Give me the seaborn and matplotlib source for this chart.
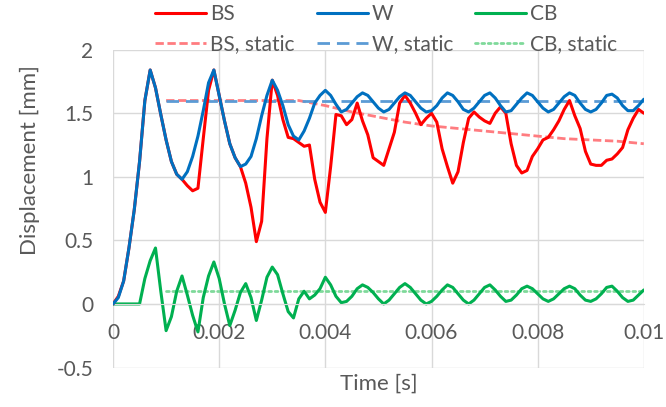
import matplotlib
matplotlib.use('Agg')
import matplotlib.pyplot as plt
import numpy as np
import pandas as pd
import seaborn as sns

# time axis, sampled every 0.1 ms
time_s = np.linspace(0, 0.01, 101)

bs = [0.00, 0.06, 0.18, 0.44, 0.74, 1.12, 1.60, 1.84, 1.70, 1.49,
      1.29, 1.12, 1.02, 0.98, 0.93, 0.89, 0.91, 1.30, 1.68, 1.84,
      1.64, 1.44, 1.26, 1.15, 1.08, 0.95, 0.76, 0.49, 0.65, 1.30,
      1.76, 1.64, 1.45, 1.31, 1.30, 1.27, 1.24, 1.25, 0.98, 0.80,
      0.72, 1.08, 1.49, 1.48, 1.41, 1.45, 1.58, 1.44, 1.33, 1.15,
      1.12, 1.09, 1.22, 1.35, 1.58, 1.64, 1.58, 1.50, 1.41, 1.46,
      1.50, 1.43, 1.22, 1.08, 0.95, 1.04, 1.27, 1.46, 1.51, 1.47,
      1.44, 1.42, 1.50, 1.55, 1.50, 1.26, 1.09, 1.03, 1.05, 1.16,
      1.22, 1.29, 1.31, 1.37, 1.44, 1.53, 1.60, 1.48, 1.38, 1.20,
      1.10, 1.09, 1.09, 1.13, 1.14, 1.18, 1.23, 1.37, 1.46, 1.53,
      1.50]

w = [0.00, 0.05, 0.18, 0.44, 0.74, 1.12, 1.60, 1.84, 1.70, 1.49,
     1.29, 1.12, 1.02, 0.98, 1.04, 1.16, 1.32, 1.52, 1.74, 1.84,
     1.64, 1.44, 1.26, 1.15, 1.08, 1.10, 1.16, 1.30, 1.48, 1.64,
     1.76, 1.68, 1.56, 1.41, 1.32, 1.29, 1.36, 1.46, 1.58, 1.64,
     1.68, 1.64, 1.57, 1.51, 1.53, 1.58, 1.63, 1.66, 1.64, 1.59,
     1.54, 1.51, 1.53, 1.58, 1.63, 1.66, 1.64, 1.59, 1.54, 1.51,
     1.52, 1.56, 1.62, 1.66, 1.64, 1.59, 1.53, 1.51, 1.54, 1.59,
     1.64, 1.66, 1.62, 1.56, 1.51, 1.52, 1.57, 1.62, 1.66, 1.64,
     1.59, 1.54, 1.51, 1.53, 1.58, 1.63, 1.66, 1.64, 1.58, 1.53,
     1.51, 1.53, 1.58, 1.64, 1.65, 1.62, 1.56, 1.52, 1.52, 1.56,
     1.61]

cb = [0.00, 0.00, 0.00, 0.00, 0.00, 0.00, 0.20, 0.34, 0.44, 0.10,
      -0.21, -0.10, 0.10, 0.22, 0.07, -0.09, -0.22, 0.05, 0.22, 0.33,
      0.20, 0.00, -0.17, -0.05, 0.09, 0.16, 0.05, -0.13, 0.03, 0.21,
      0.29, 0.23, 0.08, -0.06, -0.11, 0.04, 0.10, 0.04, 0.07, 0.12,
      0.21, 0.15, 0.06, 0.01, 0.02, 0.06, 0.12, 0.15, 0.13, 0.09,
      0.04, 0.00, 0.03, 0.08, 0.13, 0.16, 0.13, 0.08, 0.03, 0.00,
      0.02, 0.06, 0.11, 0.15, 0.13, 0.08, 0.03, 0.00, 0.03, 0.08,
      0.13, 0.15, 0.11, 0.06, 0.02, 0.03, 0.07, 0.12, 0.14, 0.12,
      0.08, 0.04, 0.02, 0.04, 0.08, 0.12, 0.14, 0.12, 0.07, 0.03,
      0.02, 0.04, 0.08, 0.13, 0.14, 0.10, 0.05, 0.02, 0.03, 0.07,
      0.11]

# static solutions
static_t = [0.001, 0.002, 0.003, 0.0035, 0.004, 0.0045, 0.005, 0.0055, 0.006,
            0.0065, 0.007, 0.0075, 0.008, 0.0085, 0.009, 0.0095, 0.01]
bs_static = [1.60, 1.60, 1.60, 1.60, 1.56, 1.51, 1.47, 1.43, 1.40,
             1.38, 1.36, 1.34, 1.32, 1.30, 1.29, 1.28, 1.26]
w_static = [1.60] * len(static_t)
cb_static = [0.10] * len(static_t)

x_ticks = [0, 0.002, 0.004, 0.006, 0.008, 0.01]
x_tick_labels = ['0', '0.002', '0.004', '0.006', '0.008', '0.01']
y_ticks = [-0.5, 0, 0.5, 1, 1.5, 2]
y_tick_labels = ['-0.5', '0', '0.5', '1', '1.5', '2']

sns.set_style('white')
plt.rcParams['font.family'] = ['Lato', 'DejaVu Sans']

grey = '#595959'
grid_c = '#d9d9d9'

fig = plt.figure(figsize=(6.66, 4.07), dpi=100)
ax = fig.add_axes([0.1697, 0.097, 0.797, 0.781])

sns.lineplot(x=static_t, y=bs_static, ax=ax, color='#ff7c80', lw=2.0,
             label='BS, static').lines[-1].set_dashes([3, 1.3])
sns.lineplot(x=static_t, y=w_static, ax=ax, color='#5b9bd5', lw=2.0,
             label='W, static').lines[-1].set_dashes([4.5, 2.5])
l_cb_s = sns.lineplot(x=static_t, y=cb_static, ax=ax, color='#7fd99a', lw=2.0,
                      label='CB, static').lines[-1]
l_cb_s.set_dashes([1, 1.3])
l_cb_s.set_dash_capstyle('round')

sns.lineplot(x=time_s, y=w, ax=ax, color='#0070c0', lw=2.2, label='W')
sns.lineplot(x=time_s, y=bs, ax=ax, color='#ff0000', lw=2.2, label='BS')
sns.lineplot(x=time_s, y=cb, ax=ax, color='#00b050', lw=2.2, label='CB')

# blue drawn over red, like the reference
ax.lines[3].set_zorder(4)
ax.lines[4].set_zorder(3)

ax.set_xlim(0, 0.01)
ax.set_ylim(-0.5, 2)
ax.set_xticks(x_ticks)
ax.set_xticklabels(x_tick_labels)
ax.set_yticks(y_ticks)
ax.set_yticklabels(y_tick_labels)
ax.grid(True, color=grid_c, lw=1)
ax.set_axisbelow(True)
for s in ['top', 'right', 'left']:
    ax.spines[s].set_visible(False)
ax.spines['bottom'].set_position(('data', 0))
ax.spines['bottom'].set_color(grid_c)
ax.tick_params(axis='both', length=0, labelsize=15, colors=grey, pad=14)

ax.set_xlabel('Time [s]', fontsize=16, color=grey)
ax.set_ylabel('Displacement [mm]', fontsize=16, color=grey)
ax.xaxis.set_label_coords(0.5, -0.02)
ax.yaxis.set_label_coords(-0.137, 0.652)

handles, labels = ax.get_legend_handles_labels()
ax.get_legend().remove()
order = ['BS', 'BS, static', 'W', 'W, static', 'CB', 'CB, static']
hmap = dict(zip(labels, handles))
leg = fig.legend([hmap[k] for k in order], order, ncol=3, frameon=False,
                 loc='upper left', bbox_to_anchor=(155 / 666, 1 - 4 / 407),
                 fontsize=15, handlelength=2.45, handletextpad=0.2,
                 columnspacing=1.05, labelspacing=0.5, borderpad=0,
                 borderaxespad=0)
for t in leg.get_texts():
    t.set_color(grey)

fig.savefig('out.png', dpi=100)
